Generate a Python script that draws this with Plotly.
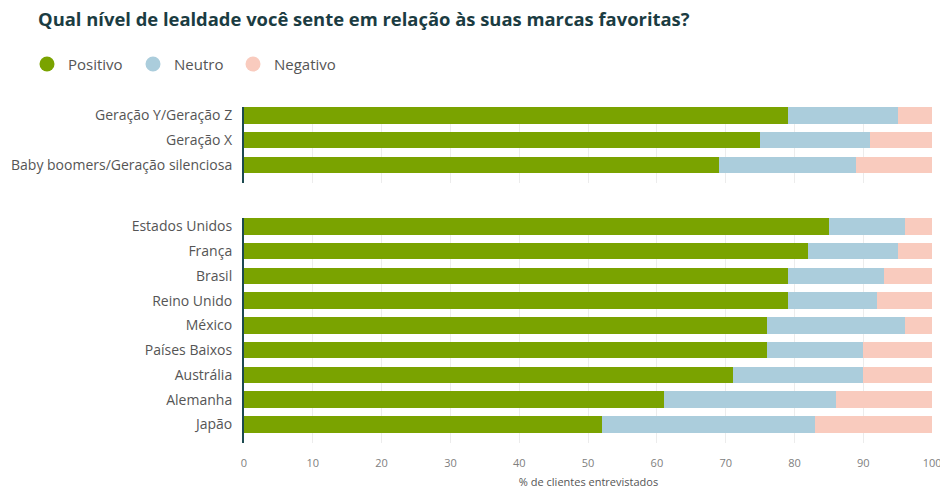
import plotly.graph_objects as go

# ---------------- data ----------------
groups = ["Geração Y/Geração Z", "Geração X", "Baby boomers/Geração silenciosa"]
pos_g = [79, 75, 69]
neu_g = [16, 16, 20]
neg_g = [5, 9, 11]

countries = ["Estados Unidos", "França", "Brasil", "Reino Unido", "México",
             "Países Baixos", "Austrália", "Alemanha", "Japão"]
pos_c = [85, 82, 79, 79, 76, 76, 71, 61, 52]
neu_c = [11, 13, 14, 13, 20, 14, 19, 25, 31]
neg_c = [4, 5, 7, 8, 4, 10, 10, 14, 17]

series_names = ["Positivo", "Neutro", "Negativo"]
x_ticks = [0, 10, 20, 30, 40, 50, 60, 70, 80, 90, 100]

# ---------------- style ----------------
W, H = 940, 489
ML, MR, MT, MB = 244, 7, 107, 46
PW, PH = W - ML - MR, H - MT - MB
COLORS = ["#7aa300", "#abcddc", "#f9cbbe"]
AXIS_DARK = "#1d4a50"
TXT = "#555555"
FONT = "Open Sans"
BAR_W = 0.67

def py(pix):  # pixel y -> paper y
    return 1 - (pix - MT) / PH

def px(pix):  # pixel x -> paper x
    return (pix - ML) / PW

fig = go.Figure()
for vals, name, col in zip([pos_g, neu_g, neg_g], series_names, COLORS):
    fig.add_trace(go.Bar(y=groups, x=vals, name=name, orientation="h",
                         marker=dict(color=col, line=dict(width=0)),
                         width=BAR_W, xaxis="x", yaxis="y", showlegend=False))
for vals, name, col in zip([pos_c, neu_c, neg_c], series_names, COLORS):
    fig.add_trace(go.Bar(y=countries, x=vals, name=name, orientation="h",
                         marker=dict(color=col, line=dict(width=0)),
                         width=BAR_W, xaxis="x2", yaxis="y2", showlegend=False))

xcommon = dict(range=[0, 100.12], tickvals=x_ticks, showgrid=True,
               gridcolor="#ececec", gridwidth=1, zeroline=False, showline=False,
               fixedrange=True, automargin=False)
ycommon = dict(type="category", showline=True, linecolor=AXIS_DARK, linewidth=2,
               showgrid=False, ticks="", ticklabelstandoff=7, automargin=False,
               tickfont=dict(family=FONT, size=14, color=TXT))

fig.update_layout(
    width=W, height=H,
    margin=dict(l=ML, r=MR, t=MT, b=MB, autoexpand=False),
    paper_bgcolor="white", plot_bgcolor="white",
    barmode="stack", bargap=0,
    showlegend=False,
    xaxis=dict(**xcommon, anchor="y", showticklabels=False),
    xaxis2=dict(**xcommon, anchor="y2", matches="x", showticklabels=True,
                tickfont=dict(family=FONT, size=11, color="#808080"),
                ticklabelstandoff=12, ticklabeloverflow="allow",
                title=dict(text="% de clientes entrevistados",
                           font=dict(family=FONT, size=11, color="#555555"))),
    yaxis=dict(**ycommon, domain=[py(183), 1], anchor="x",
               categoryarray=groups, range=[len(groups) - 1 + 0.73, -0.335]),
    yaxis2=dict(**ycommon, domain=[0, py(218)], anchor="x2",
                categoryarray=countries, range=[len(countries) - 1 + 0.746, -0.335]),
    title=dict(text="Qual nível de lealdade você sente em relação às suas marcas favoritas?",
               x=38 / W, xanchor="left", y=1 - 20 / H, yanchor="middle",
               font=dict(family=FONT, size=18.4, color="#1b3c42", weight="bold")),
)

# legend drawn as circles + text
legend_x = [47, 153, 253]
for name, col, lx in zip(series_names, COLORS, legend_x):
    fig.add_shape(type="circle", xref="paper", yref="paper",
                  xsizemode="pixel", ysizemode="pixel",
                  xanchor=px(lx), yanchor=py(64),
                  x0=-7.5, x1=7.5, y0=-7.5, y1=7.5,
                  fillcolor=col, line=dict(width=0))
    fig.add_annotation(text=name, xref="paper", yref="paper",
                       x=px(lx + 19), y=py(64), xanchor="left", yanchor="middle",
                       showarrow=False,
                       font=dict(family=FONT, size=15, color=TXT))

fig.write_html("out.html")
